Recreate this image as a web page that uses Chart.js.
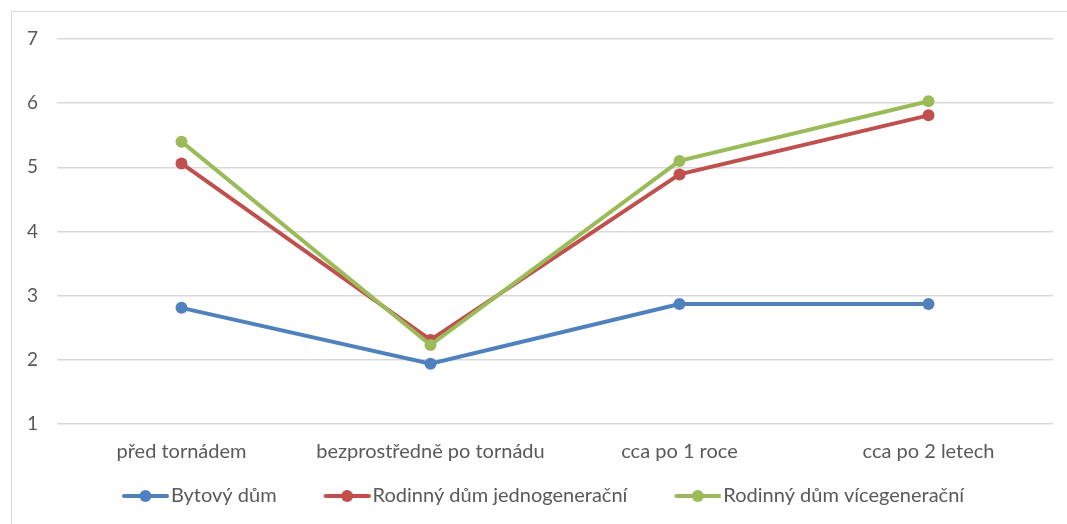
<!DOCTYPE html>
<html>
<head>
<meta charset="utf-8">
<script src="https://cdn.jsdelivr.net/npm/chart.js@4/dist/chart.umd.min.js"></script>
<style>
  html, body { margin: 0; padding: 0; background: #fff; }
  #wrap { position: relative; width: 1067px; height: 524px; overflow: hidden; }
  #frame { position: absolute; left: 11px; top: 11px; width: 1200px; height: 600px;
           border-left: 1px solid #d9d9d9; border-top: 1px solid #d9d9d9; }
  canvas { position: absolute; left: 0; top: 0; }
</style>
</head>
<body>
<div id="wrap">
  <div id="frame"></div>
  <canvas id="c" width="1067" height="524"></canvas>
</div>
<script>
// categories + series
const CATEGORIES = ['před tornádem', 'bezprostředně po tornádu', 'cca po 1 roce', 'cca po 2 letech'];
const BYTOVY = [2.81, 1.94, 2.87, 2.87];
const JEDNOGEN = [5.06, 2.31, 4.89, 5.81];
const VICEGEN = [5.40, 2.23, 5.10, 6.03];
const Y_TICKS = [1, 2, 3, 4, 5, 6, 7];

const FONT = 'Lato, "Open Sans", sans-serif';
const TEXT = '#595959';

// legend box geometry (icon sits at the right end of a wider transparent image)
const LEG_PAD = 14;
const LEG_BOX = 72;
const ICON_W = 47;

function legendIcon(color) {
  const cv = document.createElement('canvas');
  cv.width = LEG_BOX + 16; cv.height = 14;
  const g = cv.getContext('2d');
  const x0 = cv.width - ICON_W;
  g.strokeStyle = color; g.lineWidth = 4; g.lineCap = 'round';
  g.beginPath(); g.moveTo(x0 + 2, 7); g.lineTo(x0 + ICON_W - 2, 7); g.stroke();
  g.fillStyle = color;
  g.beginPath(); g.arc(x0 + ICON_W / 2, 7, 6, 0, Math.PI * 2); g.fill();
  return cv;
}

function series(label, data, color, order) {
  return {
    label, data, order,
    borderColor: color,
    backgroundColor: color,
    borderWidth: 4,
    pointRadius: 6,
    pointHoverRadius: 6,
    pointBackgroundColor: color,
    pointBorderWidth: 0,
    tension: 0,
  };
}

new Chart(document.getElementById('c').getContext('2d'), {
  type: 'line',
  data: {
    labels: CATEGORIES,
    datasets: [
      series('Bytový dům', BYTOVY, '#4F81BD', 3),
      series('Rodinný dům jednogenerační', JEDNOGEN, '#C0504D', 2),
      series('Rodinný dům vícegenerační', VICEGEN, '#9BBB59', 1),
    ],
  },
  options: {
    responsive: false,
    animation: false,
    layout: { padding: { left: 0, right: 14, top: 39, bottom: 8 } },
    plugins: {
      tooltip: { enabled: false },
      legend: {
        position: 'bottom',
        labels: {
          color: TEXT,
          font: { family: FONT, size: 20 },
          usePointStyle: true,
          pointStyleWidth: LEG_BOX,
          padding: LEG_PAD,
          sort: (a, b) => a.datasetIndex - b.datasetIndex,
          generateLabels(chart) {
            const items = Chart.defaults.plugins.legend.labels.generateLabels(chart);
            items.forEach(it => {
              it.pointStyle = legendIcon(chart.data.datasets[it.datasetIndex].borderColor);
            });
            return items;
          },
        },
      },
    },
    scales: {
      x: {
        offset: true,
        grid: { display: false },
        border: { display: false },
        ticks: { color: TEXT, font: { family: FONT, size: 20 }, padding: 8, maxRotation: 0 },
      },
      y: {
        min: 1, max: 7,
        afterFit(scale) { scale.width = 57; },
        afterBuildTicks(scale) { scale.ticks = Y_TICKS.map(v => ({ value: v })); },
        grid: { color: '#d9d9d9', lineWidth: 1.5, drawTicks: false },
        border: { display: false },
        ticks: { color: TEXT, font: { family: FONT, size: 19 }, padding: 19 },
      },
    },
  },
});
</script>
</body>
</html>
